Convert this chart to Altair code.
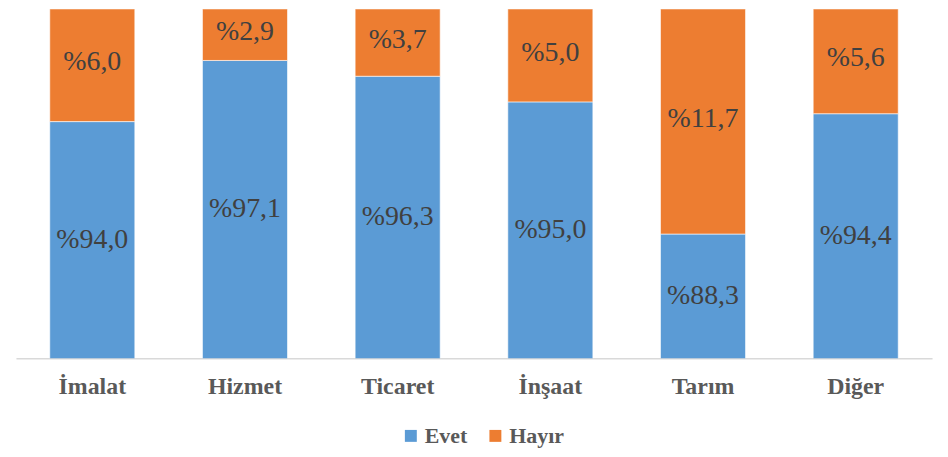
import altair as alt
import pandas as pd

categories = ["İmalat", "Hizmet", "Ticaret", "İnşaat", "Tarım", "Diğer"]
evet = [94.0, 97.1, 96.3, 95.0, 88.3, 94.4]
hayir = [6.0, 2.9, 3.7, 5.0, 11.7, 5.6]
series = ["Evet", "Hayır"]
colors = ["#5B9BD5", "#ED7D31"]

Y_MIN, Y_MAX = 82.0, 99.7

rows = []
for c, e, h in zip(categories, evet, hayir):
    rows.append({"cat": c, "series": "Evet", "value": e, "start": 0.0, "end": e})
    rows.append({"cat": c, "series": "Hayır", "value": h, "start": e, "end": e + h})
df = pd.DataFrame(rows)
df["mid"] = (df["start"].clip(lower=Y_MIN) + df["end"].clip(upper=100.0)) / 2
df["label"] = df["value"].map(lambda v: "%" + f"{v:.1f}".replace(".", ","))

FONT = "Liberation Serif"

x = alt.X("cat:N", sort=categories, title=None,
          scale=alt.Scale(paddingInner=0.443, paddingOuter=0.2215),
          axis=alt.Axis(domainColor="#d9d9d9", domainWidth=1.5, ticks=False,
                        labelAngle=0, labelFont=FONT, labelFontSize=24,
                        labelFontWeight="bold", labelColor="#595959",
                        labelPadding=16, grid=False))
yscale = alt.Scale(domain=[Y_MIN, Y_MAX], zero=False, nice=False)

bars = alt.Chart(df).mark_bar(clip=True, stroke="white", strokeWidth=0.6).encode(
    x=x,
    y=alt.Y("start:Q", scale=yscale, axis=None),
    y2="end:Q",
    color=alt.Color("series:N", sort=series,
                    scale=alt.Scale(domain=series, range=colors),
                    legend=alt.Legend(title=None, orient="none", legendX=386, legendY=418,
                                      direction="horizontal", symbolType="square",
                                      symbolSize=144, symbolStrokeWidth=0,
                                      labelFont=FONT, labelFontSize=22,
                                      labelFontWeight="bold", labelColor="#595959",
                                      labelOffset=3, columnPadding=17, padding=0)),
)

labels = alt.Chart(df).mark_text(font=FONT, fontSize=28, color="#404040",
                                 baseline="middle", align="center").encode(
    x=alt.X("cat:N", sort=categories),
    y=alt.Y("mid:Q", scale=yscale),
    text="label:N",
)

chart = (bars + labels).properties(
    width=921, height=351,
    autosize=alt.AutoSizeParams(type="none"),
    padding={"left": 8, "top": 0, "right": 8, "bottom": 90},
).configure_view(stroke=None)

chart.save("out.html", embed_options={"renderer": "svg", "actions": False})
